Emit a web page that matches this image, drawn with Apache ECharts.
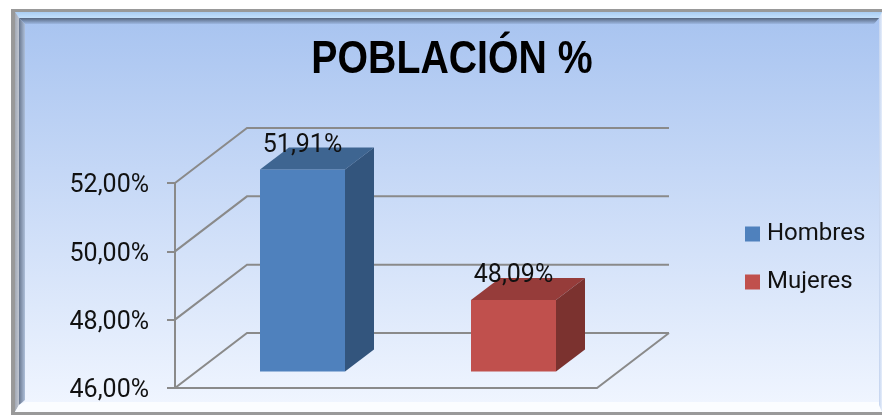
<!DOCTYPE html>
<html><head><meta charset="utf-8">
<style>html,body{margin:0;padding:0;background:#fff}#c{width:882px;height:415px}</style>
<script src="https://cdn.jsdelivr.net/npm/echarts@6/dist/echarts.min.js"></script>
</head><body><div id="c"></div>
<script>
const categories = ['Hombres', 'Mujeres'];
const hombres = [51.91];
const mujeres = [48.09];
const tickValues = [46, 48, 50, 52];
const titleText = 'POBLACIÓN %';
const FONT = 'Roboto';

const fmt = v => v.toFixed(2).replace('.', ',') + '%';
const WALL = {dx: 72, dy: -55};
const BAR = {ox: 22, oy: -16.5, dx: 29, dy: -22, w: 85};
const LINE = '#8a8a8a';

function wallItem(params, api) {
  const v = api.value(0);
  const cs = params.coordSys;
  const y = api.coord([0, v])[1];
  const style = {stroke: LINE, fill: 'none', lineWidth: 2};
  const backRight = [cs.x + cs.width + WALL.dx, y + WALL.dy];
  const backLeft = [cs.x + WALL.dx, y + WALL.dy];
  const pts = v === tickValues[0]
    ? [backRight, backLeft, [cs.x, y], [cs.x + cs.width, y], backRight]
    : [backRight, backLeft, [cs.x, y]];
  return {type: 'polyline', shape: {points: pts}, style, silent: true};
}

function barItem(colors) {
  return function (params, api) {
    const cat = api.value(0), val = api.value(1);
    const top = api.coord([cat, val]);
    const base = api.coord([cat, tickValues[0]]);
    const l = top[0] - BAR.w / 2 + BAR.ox, r = l + BAR.w;
    const t = top[1] + BAR.oy, b = base[1] + BAR.oy;
    const poly = (points, fill) => ({type: 'polygon', shape: {points}, style: {fill}});
    return {type: 'group', children: [
      poly([[l, t], [r, t], [r, b], [l, b]], colors[0]),
      poly([[l, t], [l + BAR.dx, t + BAR.dy], [r + BAR.dx, t + BAR.dy], [r, t]], colors[1]),
      poly([[r, t], [r + BAR.dx, t + BAR.dy], [r + BAR.dx, b + BAR.dy], [r, b]], colors[2]),
      {type: 'text', z2: 100, style: {text: fmt(val), x: (l + r) / 2, y: t - 24, align: 'center', verticalAlign: 'middle',
        font: '25px ' + FONT, fill: '#111'}}
    ]};
  };
}

const W = 882, H = 415;
const band = (points, fill) => ({type: 'polygon', silent: true, z: -8, shape: {points}, style: {fill}});
const vGrad = (a, b) => new echarts.graphic.LinearGradient(0, 0, 0, 1, [{offset: 0, color: a}, {offset: 1, color: b}]);
const hGrad = (a, b) => new echarts.graphic.LinearGradient(0, 0, 1, 0, [{offset: 0, color: a}, {offset: 1, color: b}]);
const frame = [
  {type: 'rect', silent: true, z: -10, shape: {x: 11, y: 9, width: W - 11, height: H - 9}, style: {fill: '#999999'}},
  {type: 'rect', silent: true, z: -9, shape: {x: 15, y: 12, width: W - 15, height: 400}, style: {fill: vGrad('#a7c3f0', '#f1f6ff')}},
  band([[15, 12], [W, 12], [W, 18], [19, 18]], vGrad('#a9cdf3', '#c4e0fb')),
  band([[19, 18], [W - 3, 18], [W - 8, 24], [25, 24]], vGrad('#56667f', '#9db8e2')),
  band([[15, 12], [19, 18], [19, 405], [15, 412]], hGrad('#a3a9b4', '#c0c6d2')),
  band([[19, 18], [25, 24], [25, 400], [19, 405]], hGrad('#68778f', '#aebfd9')),
  band([[19, 405], [25, 402], [W - 3, 402], [W, 405], [W, 412], [15, 412]], '#fbfdff'),
  band([[W - 3, 18], [W, 12], [W, 412], [W - 3, 405]], hGrad('#c3d3ee', '#e6eefb')),
  {type: 'text', silent: true, z: 5, x: 452, y: 60, scaleX: 0.835, scaleY: 1,
    style: {text: titleText, align: 'center', verticalAlign: 'middle', font: 'bold 47px "Liberation Sans"', fill: '#000'}}
];

const chart = echarts.init(document.getElementById('c'), null, {renderer: 'canvas'});
chart.setOption({
  animation: false,
  backgroundColor: '#ffffff',
  graphic: frame,
  grid: {left: 175, right: 285, top: 183, bottom: 27, containLabel: false},
  legend: {orient: 'vertical', left: 740, top: 217, itemWidth: 15, itemHeight: 15, itemGap: 24,
    icon: 'rect', data: categories,
    textStyle: {fontFamily: FONT, fontSize: 24, color: '#111', padding: [0, 0, 0, 2]}},
  xAxis: {type: 'category', data: categories, axisLine: {show: false}, axisTick: {show: false}, axisLabel: {show: false}, splitLine: {show: false}},
  yAxis: {type: 'value', min: 46, max: 52, interval: 2,
    axisLine: {show: true, lineStyle: {color: LINE, width: 2}},
    axisTick: {show: true, length: 8, lineStyle: {color: LINE, width: 2}},
    axisLabel: {formatter: v => '{v|' + fmt(v) + '}', margin: 26,
      rich: {v: {fontFamily: FONT, fontSize: 25, color: '#111', padding: [6, 0, 0, 0]}}},
    splitLine: {show: false}},
  series: [
    {type: 'custom', name: 'Paredes', silent: true, z: 1, renderItem: wallItem, encode: {y: 0}, data: tickValues.map(v => [v]), legendHoverLink: false},
    {type: 'custom', name: categories[0], z: 3, renderItem: barItem(['#4f81bd', '#3e6591', '#33557d']), itemStyle: {color: '#4f81bd'}, encode: {x: 0, y: 1},
      data: hombres.map(v => [0, v])},
    {type: 'custom', name: categories[1], z: 3, renderItem: barItem(['#c0504d', '#963c3a', '#7b322f']), itemStyle: {color: '#c0504d'}, encode: {x: 0, y: 1},
      data: mujeres.map(v => [1, v])}
  ]
});
</script></body></html>
